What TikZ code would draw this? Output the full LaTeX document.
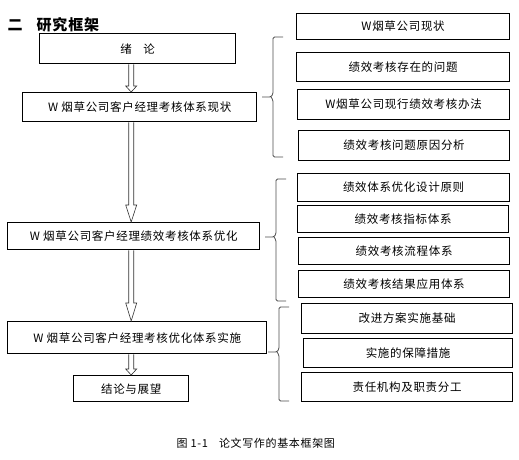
\documentclass[tikz,border=0pt]{standalone}
\usepackage{fontspec}
\setmainfont{Noto Sans CJK SC}
\newfontfamily\cjk[LetterSpace=6]{Noto Sans CJK SC}
\usepackage{tikz}
\usetikzlibrary{calc}

\begin{document}
\begin{tikzpicture}[x=1pt, y=-1pt, font=\cjk\fontsize{11.5}{13}\selectfont,
  lbox/.style={draw, line width=1.4pt, anchor=north west, inner sep=0pt},
  rbox/.style={draw, line width=1.2pt, anchor=north west, inner sep=0pt},
  harr/.style={draw=black!80, line width=0.6pt, fill=white},
  brc/.style={draw=black!70, line width=0.8pt, rounded corners=1.5pt}]
\useasboundingbox (0,0) rectangle (519,459);
\node[anchor=west, font=\cjk\bfseries\fontsize{15}{17}\selectfont] (title) at (4,25) {二\hspace{14pt}研究框架};
\node[lbox, minimum width=196pt, minimum height=30pt] (intro) at (39,33) {绪\quad 论};
\node[lbox, minimum width=234pt, minimum height=29pt] (stat) at (22,92) {W 烟草公司客户经理考核体系现状};
\node[lbox, minimum width=252pt, minimum height=27pt] (opt) at (7,222) {W 烟草公司客户经理绩效考核体系优化};
\node[lbox, minimum width=259pt, minimum height=32pt] (impl) at (7,321) {W 烟草公司客户经理考核优化体系实施};
\node[lbox, minimum width=115pt, minimum height=26pt] (concl) at (73,375) {结论与展望};
\node[rbox, minimum width=213pt, minimum height=26pt] (now) at (296,13) {W烟草公司现状};
\node[rbox, minimum width=213pt, minimum height=29pt] (prob) at (296,52) {绩效考核存在的问题};
\node[rbox, minimum width=212pt, minimum height=30pt] (rule) at (297,89) {W烟草公司现行绩效考核办法};
\node[rbox, minimum width=211pt, minimum height=30pt] (cause) at (298,130) {绩效考核问题原因分析};
\node[rbox, minimum width=212pt, minimum height=28pt] (prin) at (297,173) {绩效体系优化设计原则};
\node[rbox, minimum width=211pt, minimum height=27pt] (index) at (297,205) {绩效考核指标体系};
\node[rbox, minimum width=211pt, minimum height=27pt] (flow) at (298,237) {绩效考核流程体系};
\node[rbox, minimum width=211pt, minimum height=27pt] (result) at (298,270) {绩效考核结果应用体系};
\node[rbox, minimum width=211pt, minimum height=30pt] (base) at (301,303) {改进方案实施基础};
\node[rbox, minimum width=209pt, minimum height=29pt] (guar) at (303,338) {实施的保障措施};
\node[rbox, minimum width=211pt, minimum height=29pt] (resp) at (301,372) {责任机构及职责分工};
\node[anchor=west, font=\cjk\fontsize{11}{13}\selectfont] (cap) at (173,443) {图 1-1\quad 论文写作的基本框架图};
\foreach \u/\v/\h in {intro/stat/6, stat/opt/17, opt/impl/18, impl/concl/6}
  \draw[harr] let \p1=(\u.south), \p2=(\v.north), \p3=(concl.north) in
    (\x3-2.5pt,\y1) -- (\x3-2.5pt,\y2+\h pt) -- (\x3-5.5pt,\y2+\h pt) -- (\x3,\y2)
    -- (\x3+5.5pt,\y2+\h pt) -- (\x3+2.5pt,\y2+\h pt) -- (\x3+2.5pt,\y1);
\foreach \xr/\yt/\yb/\ym in {283/37/157/97, 286/179/301/237, 289/307/401/352}
  \draw[brc] (\xr,\yt) -- (\xr-10,\yt) -- (\xr-10,\ym-3) -- (\xr-12,\ym) -- (\xr-21,\ym)
    (\xr-12,\ym) -- (\xr-10,\ym+3) -- (\xr-10,\yb) -- (\xr,\yb);
\end{tikzpicture}
\end{document}
